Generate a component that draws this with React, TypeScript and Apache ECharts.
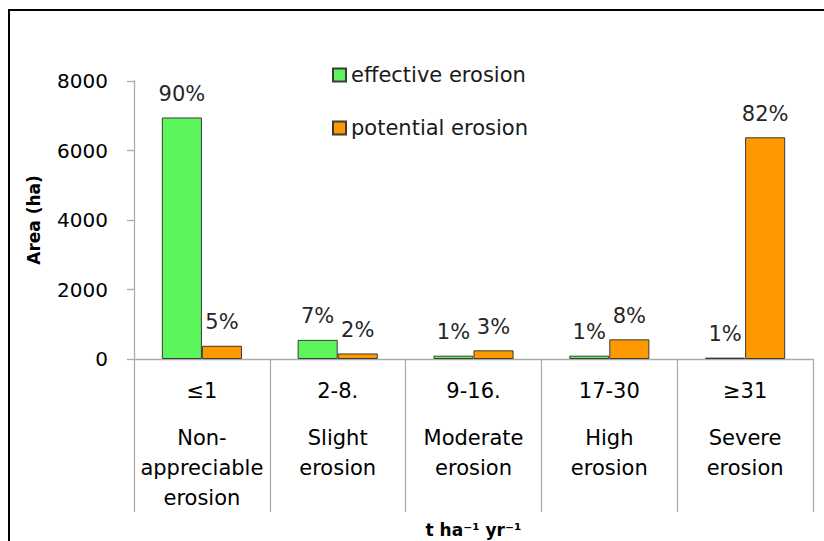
import React, { useEffect, useRef } from 'react';
import * as echarts from 'echarts';

const categories = ['≤1', '2-8.', '9-16.', '17-30', '≥31'];
const classNames = [
  'Non-\nappreciable\nerosion',
  'Slight\nerosion',
  'Moderate\nerosion',
  'High\nerosion',
  'Severe\nerosion',
];
const seriesNames = ['effective erosion', 'potential erosion'];
const effective = [6950, 550, 95, 95, 40];
const potential = [380, 160, 250, 565, 6380];
const effectivePct = ['90%', '7%', '1%', '1%', '1%'];
const potentialPct = ['5%', '2%', '3%', '8%', '82%'];
const yAxisName = 'Area (ha)';
const xAxisName = 't ha⁻¹ yr⁻¹';

const FONT = '"DejaVu Sans", Verdana, sans-serif';

export default function App() {
  const ref = useRef<HTMLDivElement>(null);
  useEffect(() => {
    if (!ref.current) return;
    const chart = echarts.init(ref.current, null, { renderer: 'svg' });
    const labelStyle = {
      show: true,
      position: 'top' as const,
      distance: 13,
      fontFamily: FONT,
      fontSize: 21,
      color: '#262626',
    };
    chart.setOption({
      animation: false,
      backgroundColor: '#fff',
      textStyle: { fontFamily: FONT },
      graphic: [
        {
          type: 'rect',
          shape: { x: 9, y: 10, width: 840, height: 560 },
          style: { fill: 'none', stroke: '#000', lineWidth: 2 },
          silent: true,
        },
      ],
      legend: {
        data: seriesNames,
        orient: 'vertical',
        left: 332,
        top: 64,
        padding: 0,
        itemWidth: 13,
        itemHeight: 13,
        itemGap: 31,
        icon: 'rect',
        textStyle: { fontFamily: FONT, fontSize: 21, color: '#1a1a1a', lineHeight: 22 },
      },
      grid: {
        left: 134,
        right: 11,
        top: 81,
        bottom: 182,
        containLabel: false,
        outerBoundsMode: 'none',
      },
      xAxis: {
        type: 'category',
        data: categories,
        name: xAxisName,
        nameLocation: 'middle',
        nameGap: 162,
        nameTextStyle: { fontFamily: FONT, fontSize: 17, fontWeight: 'bold', color: '#000' },
        axisLine: { show: true, lineStyle: { color: '#ababab', width: 1.3 } },
        axisTick: { show: true, length: 153, lineStyle: { color: '#ababab', width: 1.3 } },
        axisLabel: {
          interval: 0,
          margin: 0,
          color: '#000',
          formatter: (value: string, index: number) =>
            `{a|${value}}\n` + classNames[index].split('\n').map((s) => `{b|${s}}`).join('\n'),
          rich: {
            a: { fontFamily: FONT, fontSize: 21, lineHeight: 64, color: '#000' },
            b: { fontFamily: FONT, fontSize: 21, lineHeight: 30, color: '#000' },
          },
        },
      },
      yAxis: {
        type: 'value',
        min: 0,
        max: 8000,
        interval: 2000,
        name: yAxisName,
        nameLocation: 'middle',
        nameGap: 92,
        nameTextStyle: { fontFamily: FONT, fontSize: 17, fontWeight: 'bold', color: '#000' },
        splitLine: { show: false },
        axisLine: { show: true, lineStyle: { color: '#ababab', width: 1.3 } },
        axisTick: { show: true, length: 7, lineStyle: { color: '#ababab', width: 1.3 } },
        axisLabel: {
          margin: 26,
          fontFamily: FONT,
          fontSize: 20,
          color: '#000',
          formatter: (v: number) => String(v),
        },
      },
      series: [
        {
          name: seriesNames[0],
          type: 'bar',
          data: effective,
          barGap: '0%',
          barCategoryGap: '41%',
          itemStyle: { color: '#5CF65C', borderColor: '#3a3a3a', borderWidth: 1 },
          label: { ...labelStyle, formatter: (p: any) => effectivePct[p.dataIndex] },
        },
        {
          name: seriesNames[1],
          type: 'bar',
          data: potential,
          barGap: '0%',
          barCategoryGap: '41%',
          itemStyle: { color: '#FF9900', borderColor: '#3a3a3a', borderWidth: 1 },
          label: { ...labelStyle, formatter: (p: any) => potentialPct[p.dataIndex] },
        },
      ],
    });
    return () => chart.dispose();
  }, []);
  return (
    <div
      ref={ref}
      style={{ position: 'absolute', left: 0, top: 0, width: 824, height: 541 }}
    />
  );
}
